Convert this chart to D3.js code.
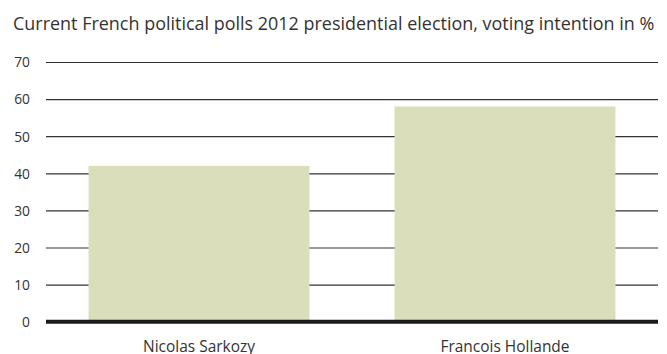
<!DOCTYPE html>
<html>
<head>
<meta charset="utf-8">
<script src="https://cdn.jsdelivr.net/npm/d3@7"></script>
<style>
  html, body { margin: 0; padding: 0; background: #fff; }
  svg { display: block; }
  text { font-family: "Open Sans", "Noto Sans", sans-serif; fill: #333; }
</style>
</head>
<body>
<svg id="chart" width="667" height="354"></svg>
<script>
// Poll results: voting intention in %
const candidates = ["Nicolas Sarkozy", "Francois Hollande"];
const votingIntention = [42, 58];
const yTicks = [0, 10, 20, 30, 40, 50, 60, 70];
const subtitle = "Current French political polls 2012 presidential election, voting intention in %";

const svg = d3.select("#chart");
const plot = { left: 46, right: 658, top: 62, bottom: 321.7 };

const x = d3.scaleBand()
  .domain(candidates)
  .range([plot.left, plot.right])
  .paddingInner(0.278)
  .paddingOuter(0.139);

const y = d3.scaleLinear()
  .domain([0, 70])
  .range([plot.bottom, plot.top]);

// Horizontally condensed text: squeeze a text node around its anchor point
function condense(sel, ax, ay, sx) {
  sel.attr("x", 0).attr("y", 0)
    .attr("transform", `translate(${ax},${ay}) scale(${sx},1)`);
}

// Subtitle, condensed to span the header width
const sub = svg.append("text")
  .attr("font-size", 18)
  .text(subtitle);
const subW = sub.node().getComputedTextLength();
condense(sub, 13, 30, 642 / subW);

// Horizontal gridlines (drawn below the bars)
const yAxis = d3.axisLeft(y)
  .tickValues(yTicks)
  .tickSize(-(plot.right - plot.left))
  .tickPadding(15)
  .tickFormat(d3.format("d"));

const gy = svg.append("g")
  .attr("transform", `translate(${plot.left},0)`)
  .call(yAxis);
gy.select(".domain").remove();
gy.selectAll(".tick line")
  .attr("stroke", "#333")
  .attr("stroke-width", 1.2);
gy.selectAll(".tick text")
  .attr("font-size", 15)
  .attr("fill", "#333")
  .style("font-family", "\"Open Sans\", sans-serif")
  .attr("transform", "scale(0.92,1)")
  .attr("x", -16 / 0.92);

// Bars
svg.append("g")
  .selectAll("rect")
  .data(candidates)
  .join("rect")
  .attr("x", d => x(d))
  .attr("width", x.bandwidth())
  .attr("y", (d, i) => y(votingIntention[i]))
  .attr("height", (d, i) => y(0) - y(votingIntention[i]))
  .attr("fill", "#dadeba");

// Baseline at zero
svg.append("line")
  .attr("x1", plot.left)
  .attr("x2", plot.right)
  .attr("y1", y(0))
  .attr("y2", y(0))
  .attr("stroke", "#1a1a1a")
  .attr("stroke-width", 4);

// Category axis with condensed labels
const xAxis = d3.axisBottom(x).tickSize(0);
const gx = svg.append("g")
  .attr("transform", `translate(0,${y(0)})`)
  .call(xAxis);
gx.select(".domain").remove();
const labels = gx.selectAll(".tick text")
  .attr("font-size", 16)
  .attr("fill", "#333")
  .attr("dy", null)
  .style("font-family", "\"Open Sans\", sans-serif");
const w0 = labels.node().getComputedTextLength();
const lsx = 112 / w0;
labels.each(function () {
  condense(d3.select(this), 0, 29.8, lsx);
});
</script>
</body>
</html>
